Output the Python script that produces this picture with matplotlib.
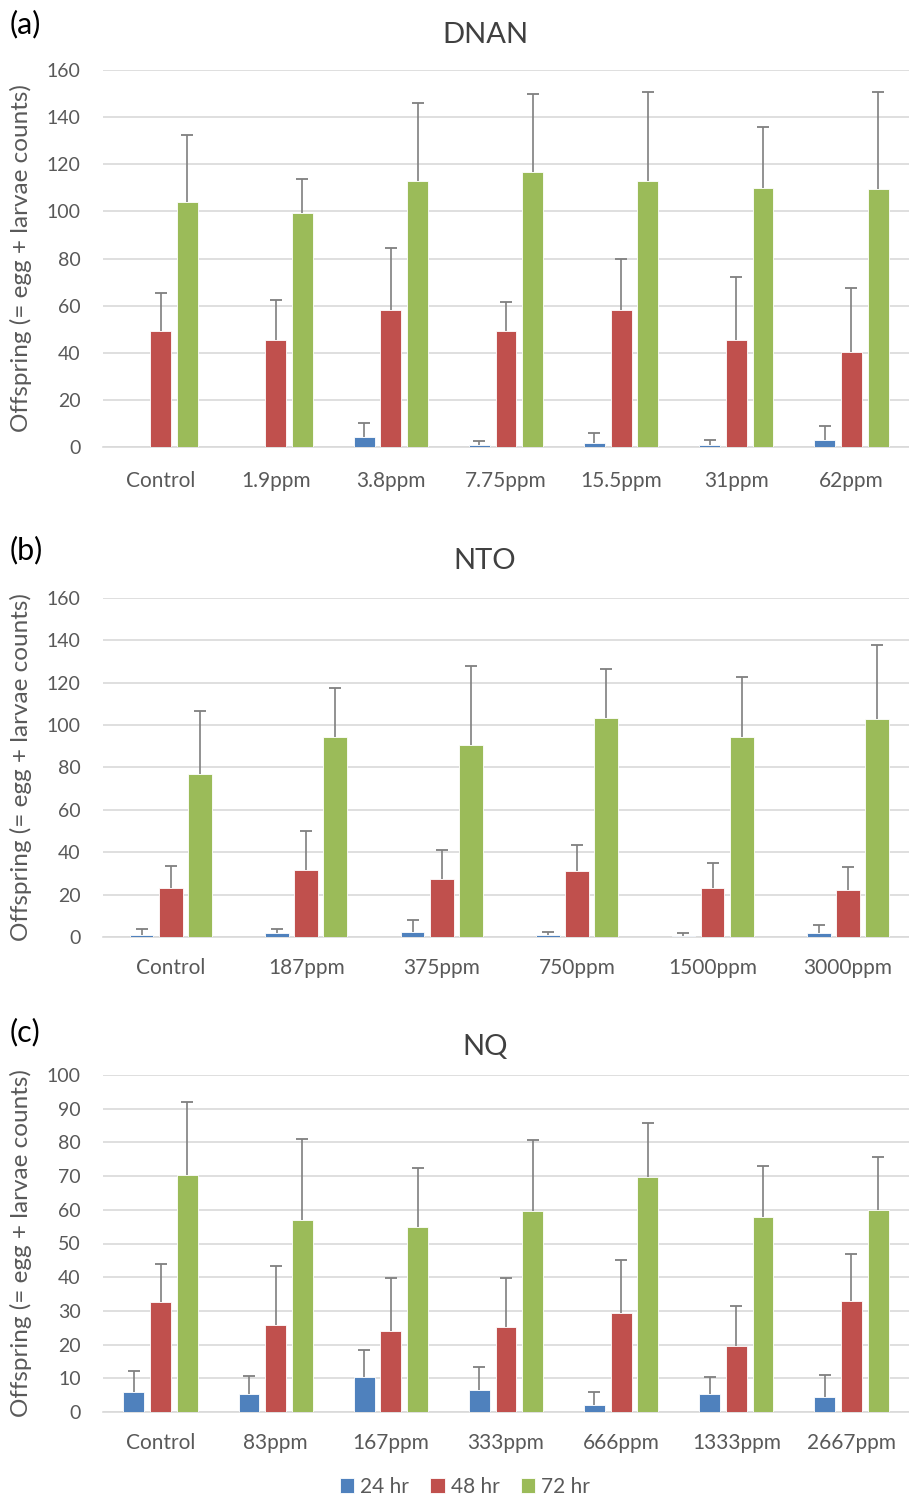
import numpy as np
import matplotlib
matplotlib.use("Agg")
import matplotlib.pyplot as plt

plt.rcParams['font.family'] = ['Lato', 'DejaVu Sans']

# ---- Data ----
series_names = ["24 hr", "48 hr", "72 hr"]
colors = ["#4F81BD", "#C0504D", "#9BBB59"]

a_cats = ["Control", "1.9ppm", "3.8ppm", "7.75ppm", "15.5ppm", "31ppm", "62ppm"]
a_24 = [0, 0, 4.4, 0.8, 1.5, 0.8, 3.0]
a_24_err = [np.nan, np.nan, 5.9, 1.6, 4.3, 2.2, 6.0]
a_48 = [49.2, 45.4, 58.1, 49.2, 58.1, 45.4, 40.3]
a_48_err = [16.2, 17.0, 26.4, 12.3, 21.7, 26.8, 27.2]
a_72 = [104.0, 99.3, 112.9, 116.7, 112.9, 110.0, 109.5]
a_72_err = [28.4, 14.5, 33.1, 33.1, 37.8, 25.8, 41.2]

b_cats = ["Control", "187ppm", "375ppm", "750ppm", "1500ppm", "3000ppm"]
b_24 = [1.0, 1.7, 2.5, 1.0, 0.7, 1.7]
b_24_err = [3.0, 2.3, 5.5, 1.2, 1.0, 4.0]
b_48 = [23.0, 31.6, 27.4, 31.1, 23.1, 22.2]
b_48_err = [10.5, 18.4, 13.6, 12.3, 11.8, 10.8]
b_72 = [77.0, 94.4, 90.6, 103.4, 94.4, 102.9]
b_72_err = [29.7, 23.1, 37.3, 23.1, 28.3, 34.9]

c_cats = ["Control", "83ppm", "167ppm", "333ppm", "666ppm", "1333ppm", "2667ppm"]
c_24 = [6.0, 5.2, 10.3, 6.5, 2.0, 5.2, 4.5]
c_24_err = [6.2, 5.5, 8.1, 6.9, 4.0, 5.1, 6.5]
c_48 = [32.6, 25.8, 24.0, 25.2, 29.4, 19.6, 32.9]
c_48_err = [11.3, 17.5, 15.8, 14.6, 15.7, 11.9, 14.0]
c_72 = [70.3, 57.0, 54.9, 59.6, 69.7, 57.9, 59.9]
c_72_err = [21.7, 24.0, 17.5, 21.1, 16.1, 15.1, 15.8]

W, H = 909, 1498
fig = plt.figure(figsize=(W / 100, H / 100), dpi=100)

TXT = "#595959"
GRID = "#D9D9D9"
ERRC = "#7F7F7F"


def panel(rect, cats, means, errs, ymax, ystep, width, offset, xright, xpad):
    ax = fig.add_axes(rect)
    x = np.arange(len(cats))
    handles = []
    for i, (m, e) in enumerate(zip(means, errs)):
        pos = x + (i - 1) * offset
        h = ax.bar(pos, m, width=width, color=colors[i], edgecolor="white",
                   linewidth=0.6, zorder=3, label=series_names[i])
        handles.append(h)
        e = np.asarray(e, dtype=float)
        mm = np.asarray(m, dtype=float)
        ok = ~np.isnan(e)
        ax.vlines(pos[ok], mm[ok], mm[ok] + e[ok], color=ERRC, linewidth=1.2, zorder=4)
        ax.plot(pos[ok], mm[ok] + e[ok], linestyle="none", marker="_",
                markersize=9, markeredgewidth=1.3, color=ERRC, zorder=4)
    ax.set_ylim(0, ymax)
    ax.set_xlim(-0.5, xright)
    ax.set_yticks(np.arange(0, ymax + 0.1, ystep))
    ax.yaxis.grid(True, color=GRID, linewidth=1.2, zorder=0)
    ax.set_axisbelow(True)
    for s in ["top", "right", "left"]:
        ax.spines[s].set_visible(False)
    ax.spines["bottom"].set_color(GRID)
    ax.spines["bottom"].set_linewidth(1.2)
    ax.set_xticks(x)
    ax.set_xticklabels(cats)
    ax.tick_params(axis="x", length=0, pad=xpad, labelsize=15, labelcolor=TXT)
    ax.tick_params(axis="y", length=0, pad=16, labelsize=14, labelcolor=TXT)
    ax.set_ylabel("Offspring (= egg + larvae counts)", fontsize=17.5, color=TXT)
    ax.yaxis.set_label_coords((32 - 103) / 806, 0.5)
    return ax, handles


ax_a, handles = panel([103 / W, 1 - 447 / H, 806 / W, 377 / H], a_cats,
                      [a_24, a_48, a_72], [a_24_err, a_48_err, a_72_err],
                      160, 20, 0.18, 0.232, 6.5, 17)
ax_b, _ = panel([103 / W, 1 - 937 / H, 806 / W, 339 / H], b_cats,
                [b_24, b_48, b_72], [b_24_err, b_48_err, b_72_err],
                160, 20, 0.175, 0.215, 5.45, 15)
ax_c, _ = panel([103 / W, 1 - 1412 / H, 806 / W, 337 / H], c_cats,
                [c_24, c_48, c_72], [c_24_err, c_48_err, c_72_err],
                100, 10, 0.18, 0.232, 6.5, 15)

for title, yp in [("DNAN", 35), ("NTO", 561), ("NQ", 1047)]:
    fig.text(485 / W, 1 - yp / H, title, fontsize=21, color="#404040",
             ha="center", va="center")

for letter, yp in [("(a)", 24), ("(b)", 550), ("(c)", 1032)]:
    fig.text(10 / W, 1 - yp / H, letter, fontsize=22, color="black",
             ha="left", va="center")

fig.legend(handles, series_names, loc="center", bbox_to_anchor=(465 / W, 1 - 1487 / H),
           ncol=3, frameon=False, fontsize=15, labelcolor=TXT,
           handlelength=0.7, handleheight=0.7, handletextpad=0.3, columnspacing=1.0)

fig.savefig("out.png", dpi=100)
